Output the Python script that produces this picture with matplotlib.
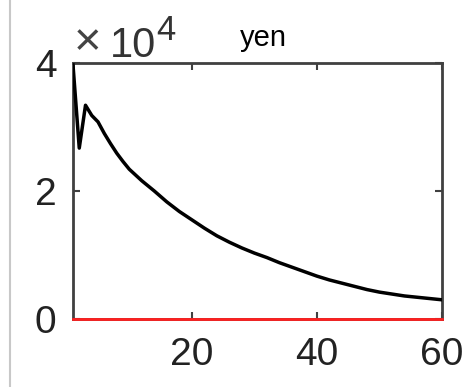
import matplotlib
matplotlib.use('Agg')
import matplotlib.pyplot as plt
from matplotlib.lines import Line2D

# curve (x index, value in yen)
xs = [1, 2, 3, 4, 5, 6, 7, 8, 9, 10, 12, 14, 16, 18, 20, 22, 24, 26, 28, 30,
      32, 34, 36, 38, 40, 42, 44, 46, 48, 50, 52, 54, 56, 58, 60]
ys = [39700, 26700, 33400, 31800, 30800, 29000, 27400, 25900, 24600, 23400,
      21600, 20000, 18300, 16800, 15500, 14200, 13000, 12000, 11100, 10300,
      9600, 8800, 8100, 7400, 6700, 6100, 5600, 5100, 4600, 4200, 3900, 3600,
      3400, 3200, 3000]
xticks = [20, 40, 60]
yticks = [0, 20000, 40000]
ytick_labels = ['0', '2', '4']

plt.rcParams['font.family'] = ['Liberation Sans', 'DejaVu Sans']

fig = plt.figure(figsize=(4.68, 3.87), dpi=100)
ax = fig.add_axes([73/468, 1 - 319/387, (442 - 73)/468, (319 - 63)/387])

ax.plot(xs, ys, color='black', lw=2.5, zorder=3)
ax.plot([xs[0], xs[-1]], [0, 0], color='#ff2020', lw=2, zorder=4, clip_on=False)

ax.set_xlim(1, 60)
ax.set_ylim(0, 40000)
ax.set_xticks(xticks)
ax.set_yticks(yticks)
ax.set_yticklabels(ytick_labels)
ax.tick_params(direction='in', length=5, width=1.5, color='#404040',
               labelsize=28, top=True, right=True, labelcolor='#222222')
ax.tick_params(axis='x', pad=13)
ax.tick_params(axis='y', pad=12)
for s in ax.spines.values():
    s.set_color('#404040')
    s.set_linewidth(2)

fig.text(74/468, 1 - 55/387, '\u00d7', fontsize=34, color='#444444', va='baseline')
fig.text(110/468, 1 - 57/387, '10', fontsize=30, color='#333333', va='baseline')
fig.text(156/468, 1 - 40/387, '4', fontsize=25, color='#333333', va='baseline')
fig.text(263/468, 1 - 46/387, 'yen', fontsize=21, color='black', ha='center', va='baseline')

fig.add_artist(Line2D([10/468, 10/468], [0, 1], color='#c8c8c8', lw=1.5))

plt.savefig('out.png', dpi=100)
